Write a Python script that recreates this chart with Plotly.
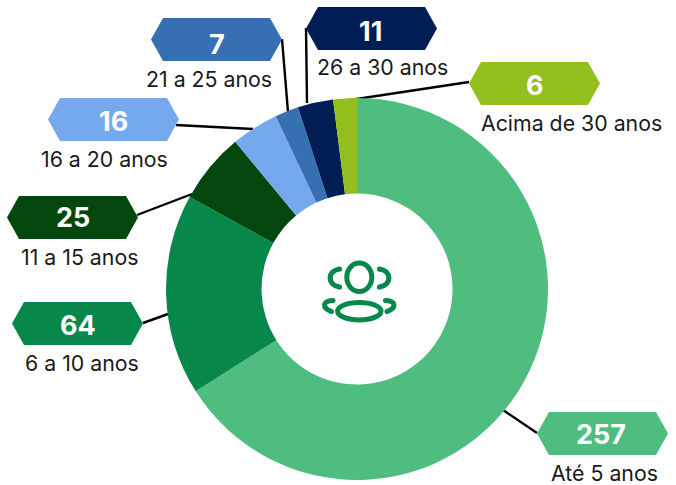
import plotly.graph_objects as go

# --- data ---
categories = ["Até 5 anos", "6 a 10 anos", "11 a 15 anos", "16 a 20 anos",
              "21 a 25 anos", "26 a 30 anos", "Acima de 30 anos"]
counts = [257, 64, 25, 16, 7, 11, 6]          # numbers printed in the badges
shares = [66, 17, 6, 4, 2, 3, 2]              # rounded % that set the slice angles
colors = ["#4FBD7F", "#07874A", "#03470F", "#74A9EE", "#3670B2", "#001E54", "#93BF1E"]

# --- layout constants (pixels in the 676x485 page) ---
W, H = 676, 485
PIE_L, PIE_R, PIE_T, PIE_B = 166, 548, 98, 480
HEX_W, HEX_H, HEX_INSET = 131, 43, 12
hex_left = [537, 12, 7, 48, 151, 306, 469]
hex_top = [412, 302, 196, 98, 18, 7, 62]
badge_cx = [601, 77.5, 72.5, 113.5, 216.5, 370, 534.5]
badge_cy = [434, 325, 218, 121.5, 44, 32, 85]
label_cx = [604, 81.5, 79, 104, 209, 382, 571]
label_cy = [473, 362.5, 256.5, 159, 79.5, 67, 123]
leaders = [((503, 410), (537, 433)), ((143, 323), (168, 314)), ((137, 215), (192, 194)),
           ((176, 125), (253, 129)), ((282, 39), (288, 112)), ((306, 28), (307, 103)),
           ((469, 82), (350, 100))]
ICON = "#07874A"


def px(x):
    return x / W


def py(y):
    return 1 - y / H


def path(cmds):
    out = []
    for c in cmds:
        if isinstance(c, str):
            out.append(c)
        else:
            out.append(f"{px(c[0]):.5f},{py(c[1]):.5f}")
    return " ".join(out)


shapes = []
annotations = []

for (a, b) in leaders:
    shapes.append(dict(type="line", xref="paper", yref="paper", layer="below",
                       x0=px(a[0]), y0=py(a[1]), x1=px(b[0]), y1=py(b[1]),
                       line=dict(color="#000000", width=2.4)))

for i, cat in enumerate(categories):
    l, t = hex_left[i], hex_top[i]
    r, b, m = l + HEX_W, t + HEX_H, t + HEX_H / 2
    shapes.append(dict(type="path", xref="paper", yref="paper", layer="above",
                       path=path(["M", (l, m), "L", (l + HEX_INSET, t), "L", (r - HEX_INSET, t),
                                  "L", (r, m), "L", (r - HEX_INSET, b), "L", (l + HEX_INSET, b), "Z"]),
                       fillcolor=colors[i], line=dict(width=0)))
    annotations.append(dict(text=str(counts[i]), x=px(badge_cx[i]), y=py(badge_cy[i]), xref="paper", yref="paper",
                            xanchor="center", yanchor="middle", showarrow=False,
                            font=dict(family="Inter", size=27, color="#FFFFFF", weight=700)))
    annotations.append(dict(text=cat, x=px(label_cx[i]), y=py(label_cy[i]), xref="paper", yref="paper",
                            xanchor="center", yanchor="middle", showarrow=False, height=20,
                            font=dict(family="Inter", size=21.3, color="#1A1A1A")))

# centre icon
def ring(cx, cy, rx, ry, w):
    shapes.append(dict(type="circle", xref="paper", yref="paper", layer="above",
                       x0=px(cx - rx), x1=px(cx + rx), y0=py(cy - ry), y1=py(cy + ry),
                       fillcolor="rgba(0,0,0,0)", line=dict(color=ICON, width=w)))


def arc(p0, c1, c2, p1, w):
    shapes.append(dict(type="path", xref="paper", yref="paper", layer="above",
                       path=path(["M", p0, "C", c1, c2, p1]),
                       fillcolor="rgba(0,0,0,0)", line=dict(color=ICON, width=w)))
    for p in (p0, p1):
        shapes.append(dict(type="circle", xref="paper", yref="paper", layer="above",
                           x0=px(p[0] - w / 2), x1=px(p[0] + w / 2),
                           y0=py(p[1] - w / 2), y1=py(p[1] + w / 2),
                           fillcolor=ICON, line=dict(width=0)))


ring(359.3, 277.3, 12.5, 14.2, 5)
ring(359.3, 311.2, 21.7, 8.7, 5)
arc((339.5, 269), (327, 271), (327, 285), (339.5, 287), 5.2)
arc((379.5, 269), (392, 271), (392, 285), (379.5, 287), 5.2)
arc((333, 300.5), (322, 301), (322, 308), (331.5, 311.5), 5)
arc((385.5, 300.5), (396.5, 301), (396.5, 308), (387, 311.5), 5)

fig = go.Figure(go.Pie(
    labels=categories, values=shares, customdata=counts, sort=False, direction="clockwise", rotation=0,
    hole=0.5, marker=dict(colors=colors, line=dict(width=0)),
    textinfo="none", hovertemplate="%{label}: %{customdata}<extra></extra>", showlegend=False,
    domain=dict(x=[px(PIE_L), px(PIE_R)], y=[py(PIE_B), py(PIE_T)]),
))
fig.update_layout(width=W, height=H, margin=dict(l=0, r=0, t=0, b=0),
                  paper_bgcolor="#FFFFFF", plot_bgcolor="#FFFFFF",
                  shapes=shapes, annotations=annotations, showlegend=False)
fig.write_html("out.html", config=dict(displayModeBar=False),
               post_script="document.body.style.margin='0';document.documentElement.style.overflow='hidden';")
